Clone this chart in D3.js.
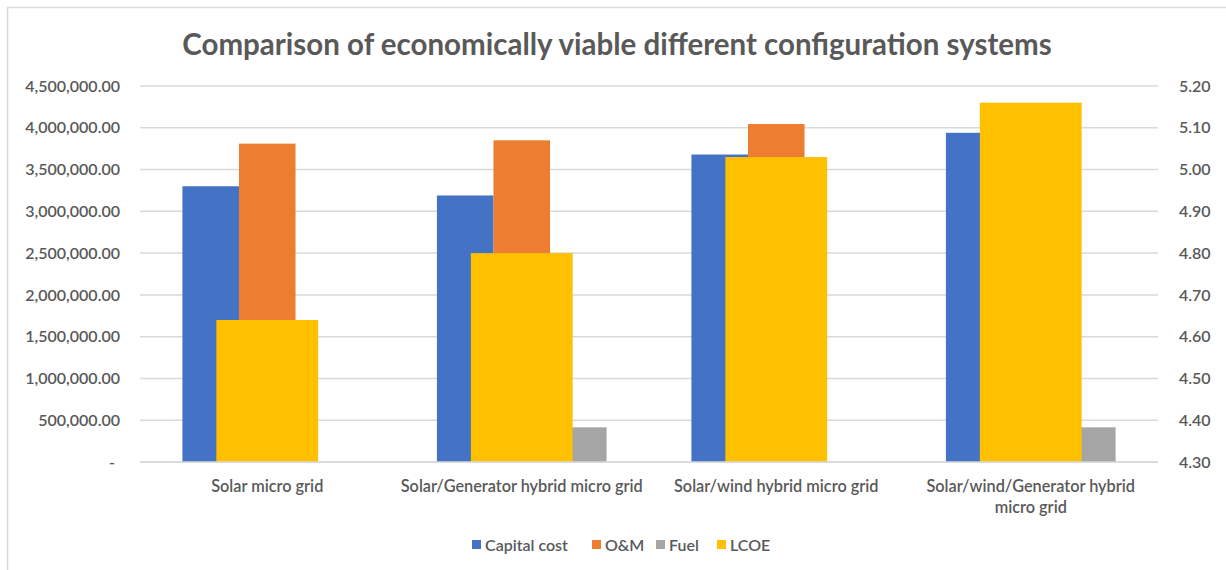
<!DOCTYPE html>
<html><head><meta charset="utf-8">
<script src="https://cdn.jsdelivr.net/npm/d3@7"></script>
<style>
body{margin:0;background:#fff;}
text{font-family:Lato,"Open Sans",sans-serif;fill:#595959;}
</style></head>
<body><svg id="c" width="1226" height="570"></svg>
<script>
const categories = [["Solar micro grid"],["Solar/Generator hybrid micro grid"],["Solar/wind hybrid micro grid"],["Solar/wind/Generator hybrid","micro grid"]];
const catKeys = categories.map(c=>c.join(" "));
const capitalCost = [3300000, 3190000, 3680000, 3940000];
const omCost = [3810000, 3850000, 4045000, 4100000];
const fuelCost = [0, 415000, 0, 415000];
const lcoe = [4.64, 4.80, 5.03, 5.16];
const leftTicks = [0,500000,1000000,1500000,2000000,2500000,3000000,3500000,4000000,4500000];
const rightTicks = [4.3,4.4,4.5,4.6,4.7,4.8,4.9,5.0,5.1,5.2];
const primarySeries = [
  {name:"Capital cost", values:capitalCost, color:"#4472C4"},
  {name:"O&M", values:omCost, color:"#ED7D31"},
  {name:"Fuel", values:fuelCost, color:"#A5A5A5"}
];
const lcoeSeries = {name:"LCOE", values:lcoe, color:"#FFC000"};
const title = "Comparison of economically viable different configuration systems";

const svg = d3.select("#c");
svg.append("rect").attr("x",7.5).attr("y",7.5).attr("width",1240).attr("height",600)
  .attr("fill","none").attr("stroke","#D9D9D9").attr("stroke-width",1.5);

const L=140, R=1158, T=86, B=462;
const x = d3.scaleBand().domain(catKeys).range([L,R]).padding(0);
const xSub = d3.scaleBand().domain(primarySeries.map(s=>s.name)).range([0,x.bandwidth()]).paddingInner(0).paddingOuter(0.75);
const xL = d3.scaleBand().domain(["LCOE"]).range([0,x.bandwidth()]).paddingInner(0).paddingOuter(0.75);
const yL = d3.scaleLinear().domain([0,4500000]).range([B,T]);
const yR = d3.scaleLinear().domain([4.3,5.2]).range([B,T]);

svg.append("g").selectAll("line").data(leftTicks).join("line")
  .attr("x1",L).attr("x2",R).attr("y1",d=>yL(d)).attr("y2",d=>yL(d))
  .attr("stroke","#D9D9D9").attr("stroke-width",1.5);

const fmtL = d=> d===0 ? "-" : d3.format(",.2f")(d);
const axL = svg.append("g").attr("transform",`translate(${L-20},0)`)
  .call(d3.axisLeft(yL).tickValues(leftTicks).tickFormat(fmtL).tickSize(0).tickPadding(0));
axL.select(".domain").remove();
axL.selectAll("text").attr("font-size",16).attr("font-weight",600).attr("fill","#595959");
axL.selectAll(".tick text").filter(d=>d===0).attr("dx",-5);

const axR = svg.append("g").attr("transform",`translate(${R+21},0)`)
  .call(d3.axisRight(yR).tickValues(rightTicks).tickFormat(d3.format(".2f")).tickSize(0).tickPadding(0));
axR.select(".domain").remove();
axR.selectAll("text").attr("font-size",16).attr("font-weight",600).attr("fill","#595959");

primarySeries.forEach(s=>{
  svg.append("g").selectAll("rect").data(s.values).join("rect")
    .attr("x",(d,i)=>x(catKeys[i])+xSub(s.name))
    .attr("width",xSub.bandwidth())
    .attr("y",d=>yL(d)).attr("height",d=>yL(0)-yL(d))
    .attr("fill",s.color);
});
svg.append("g").selectAll("rect").data(lcoeSeries.values).join("rect")
  .attr("x",(d,i)=>x(catKeys[i])+xL("LCOE"))
  .attr("width",xL.bandwidth())
  .attr("y",d=>yR(d)).attr("height",d=>yR(4.3)-yR(d))
  .attr("fill",lcoeSeries.color);

svg.append("line").attr("x1",L).attr("x2",R).attr("y1",B).attr("y2",B).attr("stroke","#D9D9D9").attr("stroke-width",1.5);

const cl = svg.append("g");
categories.forEach((lines,i)=>{
  const cx = x(catKeys[i])+x.bandwidth()/2;
  const t = cl.append("text").attr("text-anchor","middle").attr("font-size",16.3).attr("font-weight",600)
    .attr("x",cx).attr("y",492);
  lines.forEach((ln,j)=>t.append("tspan").attr("x",cx).attr("dy",j?21:0).text(ln));
});

svg.append("text").attr("x",617).attr("y",55).attr("text-anchor","middle")
  .attr("font-size",29.5).attr("font-weight",700).text(title);

const legendItems = primarySeries.concat([lcoeSeries]);
const lg = svg.append("g").attr("transform","translate(0,545)");
const legendX = [472, 592, 656, 717];
legendItems.forEach((s,i)=>{
  lg.append("rect").attr("x",legendX[i]).attr("y",-5).attr("width",9).attr("height",9).attr("fill",s.color);
  lg.append("text").attr("x",legendX[i]+13).attr("y",5.5).attr("font-size",16).attr("font-weight",600).text(s.name);
});
</script></body></html>
